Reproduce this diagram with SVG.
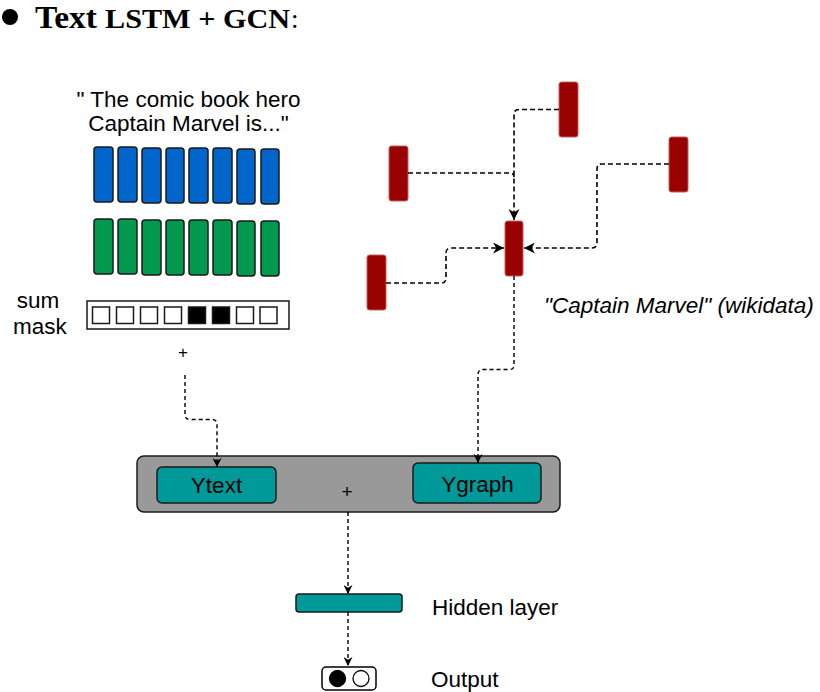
<svg xmlns="http://www.w3.org/2000/svg" width="820" height="692" viewBox="0 0 820 692">
<style>
.t{font-family:"Liberation Sans",Arial,sans-serif;font-size:22.5px;fill:#000}
.blue{fill:#0066CC;stroke:#1a1a1a;stroke-width:1.5}
.green{fill:#00994D;stroke:#1a1a1a;stroke-width:1.5}
.red{fill:#990000;stroke:#c06060;stroke-width:1}
.teal{fill:#009999;stroke:#1a1a1a;stroke-width:1.5}
.sq{fill:#fff;stroke:#1a1a1a;stroke-width:1.5}
.sqb{fill:#000;stroke:#1a1a1a;stroke-width:1.5}
.c{fill:none;stroke:#000;stroke-width:1.6;stroke-dasharray:5 3}
.c2{fill:none;stroke:#000;stroke-width:1.4;stroke-dasharray:4 3}
</style>
<defs>
<marker id="ah" viewBox="0 0 10 10" refX="10" refY="5" markerWidth="11" markerHeight="11" markerUnits="userSpaceOnUse" orient="auto">
<path d="M0,0 L10,5 L0,10 L3,5 Z" fill="#000"/>
</marker>
<marker id="ah2" viewBox="0 0 10 10" refX="10" refY="5" markerWidth="9" markerHeight="9" markerUnits="userSpaceOnUse" orient="auto">
<path d="M0,0 L10,5 L0,10 L3,5 Z" fill="#000"/>
</marker>
</defs>
<rect width="820" height="692" fill="#fff"/>
<g id="title">
<circle cx="10" cy="17" r="8" fill="#000"/>
<text y="27.5" font-family="'Liberation Serif','Times New Roman',serif" font-weight="bold"><tspan x="35" font-size="30.5" textLength="62" lengthAdjust="spacingAndGlyphs">Text</tspan><tspan x="105" font-size="27" textLength="185" lengthAdjust="spacingAndGlyphs">LSTM + GCN</tspan><tspan x="291" font-size="27" font-weight="normal">:</tspan></text>
</g>
<g id="sentence">
<text class="t" x="188.5" y="107" text-anchor="middle">" The comic book hero</text>
<text class="t" x="188.5" y="131" text-anchor="middle">Captain Marvel is..."</text>
</g>
<g id="lstm-blue">
<rect class="blue" x="94" y="147" width="19" height="55" rx="3"/>
<rect class="blue" x="118" y="147" width="19" height="55" rx="3"/>
<rect class="blue" x="142" y="148" width="19" height="55" rx="3"/>
<rect class="blue" x="166" y="148" width="18" height="55" rx="3"/>
<rect class="blue" x="189" y="148" width="19" height="55" rx="3"/>
<rect class="blue" x="213" y="148" width="19" height="55" rx="3"/>
<rect class="blue" x="237" y="149" width="18" height="55" rx="3"/>
<rect class="blue" x="261" y="149" width="18" height="55" rx="3"/>
</g>
<g id="lstm-green">
<rect class="green" x="94" y="219" width="19" height="55" rx="3"/>
<rect class="green" x="118" y="219" width="19" height="55" rx="3"/>
<rect class="green" x="142" y="220" width="19" height="55" rx="3"/>
<rect class="green" x="166" y="220" width="18" height="55" rx="3"/>
<rect class="green" x="189" y="220" width="19" height="55" rx="3"/>
<rect class="green" x="213" y="220" width="19" height="55" rx="3"/>
<rect class="green" x="237" y="221" width="18" height="55" rx="3"/>
<rect class="green" x="261" y="221" width="18" height="55" rx="3"/>
</g>
<g id="mask">
<text class="t" x="38" y="308" text-anchor="middle">sum</text>
<text class="t" x="40" y="334" text-anchor="middle">mask</text>
<rect x="87" y="301" width="202" height="28" fill="#fff" stroke="#1a1a1a" stroke-width="1.5"/>
<rect class="sq" x="92.5" y="307" width="17" height="16.5"/>
<rect class="sq" x="116.5" y="307" width="17" height="16.5"/>
<rect class="sq" x="140.5" y="307" width="17" height="16.5"/>
<rect class="sq" x="164.5" y="307" width="17" height="16.5"/>
<rect class="sqb" x="188.5" y="307" width="17" height="16.5"/>
<rect class="sqb" x="212.5" y="307" width="17" height="16.5"/>
<rect class="sq" x="236.5" y="307" width="17" height="16.5"/>
<rect class="sq" x="260" y="307" width="17" height="16.5"/>
<text class="t" x="183" y="358" text-anchor="middle" style="font-size:17px">+</text>
</g>
<g id="kg-top"><rect class="red" x="559" y="82" width="19" height="55" rx="2.5"/></g>
<g id="kg-left"><rect class="red" x="389" y="146" width="19" height="55" rx="2.5"/></g>
<g id="kg-right"><rect class="red" x="669" y="137" width="19" height="55" rx="2.5"/></g>
<g id="kg-center"><rect class="red" x="505" y="221" width="18" height="55" rx="2.5"/></g>
<g id="kg-bottomleft"><rect class="red" x="367" y="255" width="19" height="55" rx="2.5"/></g>
<g id="kg-label"><text class="t" x="544" y="313" font-style="italic">"Captain Marvel" (wikidata)</text></g>
<g id="combine">
<rect x="137" y="456" width="423" height="56" rx="7" fill="#999999" stroke="#1a1a1a" stroke-width="1.5"/>
<text class="t" x="347" y="498" text-anchor="middle" style="font-size:19px">+</text>
</g>
<g id="ytext">
<rect class="teal" x="157" y="467" width="119" height="36" rx="5"/>
<text class="t" x="216.5" y="492.5" text-anchor="middle">Ytext</text>
</g>
<g id="ygraph">
<rect class="teal" x="413" y="463" width="128" height="40" rx="5"/>
<text class="t" x="477.5" y="492" text-anchor="middle">Ygraph</text>
</g>
<g id="hidden">
<rect class="teal" x="296" y="594" width="106" height="18" rx="3"/>
<text class="t" x="432" y="615">Hidden layer</text>
</g>
<g id="output">
<rect x="322" y="667" width="54" height="23" rx="4" fill="#fff" stroke="#000" stroke-width="1.5"/>
<circle cx="337.5" cy="678.5" r="8" fill="#000" stroke="#000" stroke-width="1.3"/>
<circle cx="361" cy="678.5" r="8" fill="#fff" stroke="#000" stroke-width="1.3"/>
<text class="t" x="431" y="686.5">Output</text>
</g>
<g id="connectors">
<path class="c" d="M559,109.5 H519 Q514,109.5 514,114.5 V220" marker-end="url(#ah)"/>
<path class="c" d="M408,173 H510 Q514,173 514,177"/>
<path class="c" d="M669,164 H602 Q597,164 597,169 V243 Q597,248 592,248 H524" marker-end="url(#ah)"/>
<path class="c" d="M386,283 H441 Q446,283 446,278 V253 Q446,248 451,248 H504" marker-end="url(#ah)"/>
<path class="c2" d="M514,276 V365 Q514,369.5 509,369.5 H483 Q478,369.5 478,374.5 V463" marker-end="url(#ah2)"/>
<path class="c2" d="M185,375 V414 Q185,419.5 190,419.5 H212 Q217,419.5 217,424.5 V467" marker-end="url(#ah2)"/>
<path class="c2" d="M348,512 V594" marker-end="url(#ah2)"/>
<path class="c2" d="M348,612 V666" marker-end="url(#ah2)"/>
</g>
</svg>
